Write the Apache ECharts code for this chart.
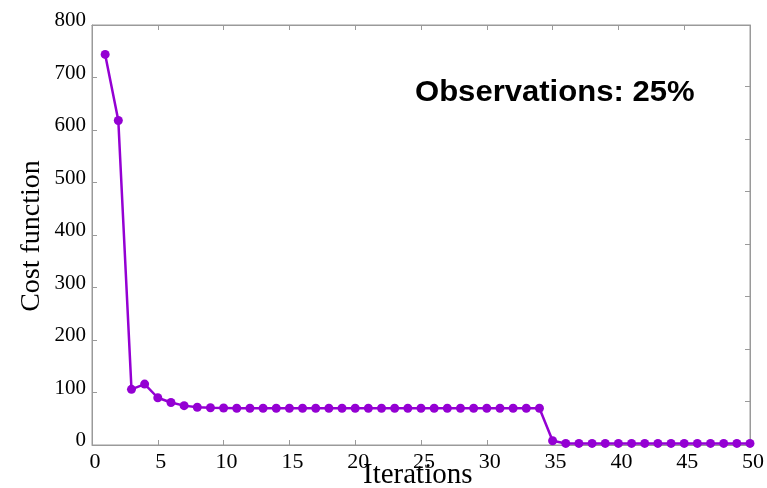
<!DOCTYPE html>
<html>
<head>
<meta charset="utf-8">
<script src="https://cdn.jsdelivr.net/npm/echarts@6/dist/echarts.min.js"></script>
<style>
  html, body { margin: 0; padding: 0; background: #fff; }
  #chart { width: 767px; height: 488px; }
</style>
</head>
<body>
<div id="chart"></div>
<script>
// Cost function value at each iteration of the optimiser
const iterations = [1,2,3,4,5,6,7,8,9,10,11,12,13,14,15,16,17,18,19,20,21,22,23,24,25,
                    26,27,28,29,30,31,32,33,34,35,36,37,38,39,40,41,42,43,44,45,46,47,48,49,50];
const costValues = [744, 618, 106, 116, 90, 81, 75, 72, 71, 70.5,
                    70, 70, 70, 70, 70, 70, 70, 70, 70, 70,
                    70, 70, 70, 70, 70, 70, 70, 70, 70, 70,
                    70, 70, 70, 70, 8, 3, 3, 3, 3, 3,
                    3, 3, 3, 3, 3, 3, 3, 3, 3, 3];
const annotation = 'Observations: 25%';
const xTitle = 'Iterations';
const yTitle = 'Cost function';

const frameColor = '#9a9a9a';
const lineColor = '#9400d3';
const serif = 'Liberation Serif';

const chart = echarts.init(document.getElementById('chart'), null, { renderer: 'canvas' });

const points = iterations.map((it, i) => [it, costValues[i]]);

// Short tick marks pointing into the plotting area
function inwardTick(extra) {
  return Object.assign({ show: true, inside: true, length: 5, lineStyle: { color: frameColor, width: 1 } }, extra || {});
}
// Frame edge drawn where the axis sits, not at the other axis's zero
function edgeLine() {
  return { show: true, onZero: false, lineStyle: { color: frameColor, width: 1 } };
}

chart.setOption({
  animation: false,
  backgroundColor: '#fff',
  grid: { left: 92, right: 17, top: 25, bottom: 43, show: true, borderColor: frameColor, borderWidth: 1 },
  xAxis: [{
    type: 'value', min: 0, max: 50, interval: 5, position: 'bottom',
    axisLine: edgeLine(),
    axisTick: inwardTick(),
    splitLine: { show: false },
    axisLabel: { color: '#000', fontFamily: serif, fontSize: 22, margin: 6, padding: [0, 0, 0, 6] }
  }, {
    type: 'value', min: 0, max: 50, interval: 5, position: 'top',
    axisLine: edgeLine(),
    axisTick: inwardTick(),
    splitLine: { show: false },
    axisLabel: { show: false }
  }],
  yAxis: [{
    type: 'value', min: 0, max: 800, interval: 100, position: 'left',
    axisLine: edgeLine(),
    axisTick: inwardTick(),
    splitLine: { show: false },
    axisLabel: { color: '#000', fontFamily: serif, fontSize: 21, margin: 6, verticalAlign: 'bottom', lineHeight: 9 }
  }, {
    type: 'value', min: 0, max: 800, position: 'right',
    axisLine: edgeLine(),
    axisTick: inwardTick({ customValues: [82.5, 182.5, 282.5, 382.5, 482.5, 582.5, 682.5] }),
    splitLine: { show: false },
    axisLabel: { show: false }
  }],
  graphic: [{
    type: 'text', left: 415, top: 78, scaleX: 1.035,
    style: { text: annotation, fill: '#000', font: 'bold 30px "Liberation Sans", Arial, sans-serif' }
  }, {
    type: 'text', left: 363, top: 461,
    style: { text: xTitle, fill: '#000', font: '29px "Liberation Serif", serif' }
  }, {
    type: 'text', x: 18, y: 236, rotation: Math.PI / 2,
    style: { text: yTitle, fill: '#000', font: '28px "Liberation Serif", serif', align: 'center', verticalAlign: 'top' }
  }],
  series: [{
    type: 'line',
    data: points,
    xAxisIndex: 0, yAxisIndex: 0,
    symbol: 'circle', symbolSize: 9,
    lineStyle: { color: lineColor, width: 2.5 },
    itemStyle: { color: lineColor },
    clip: false
  }]
});
</script>
</body>
</html>
